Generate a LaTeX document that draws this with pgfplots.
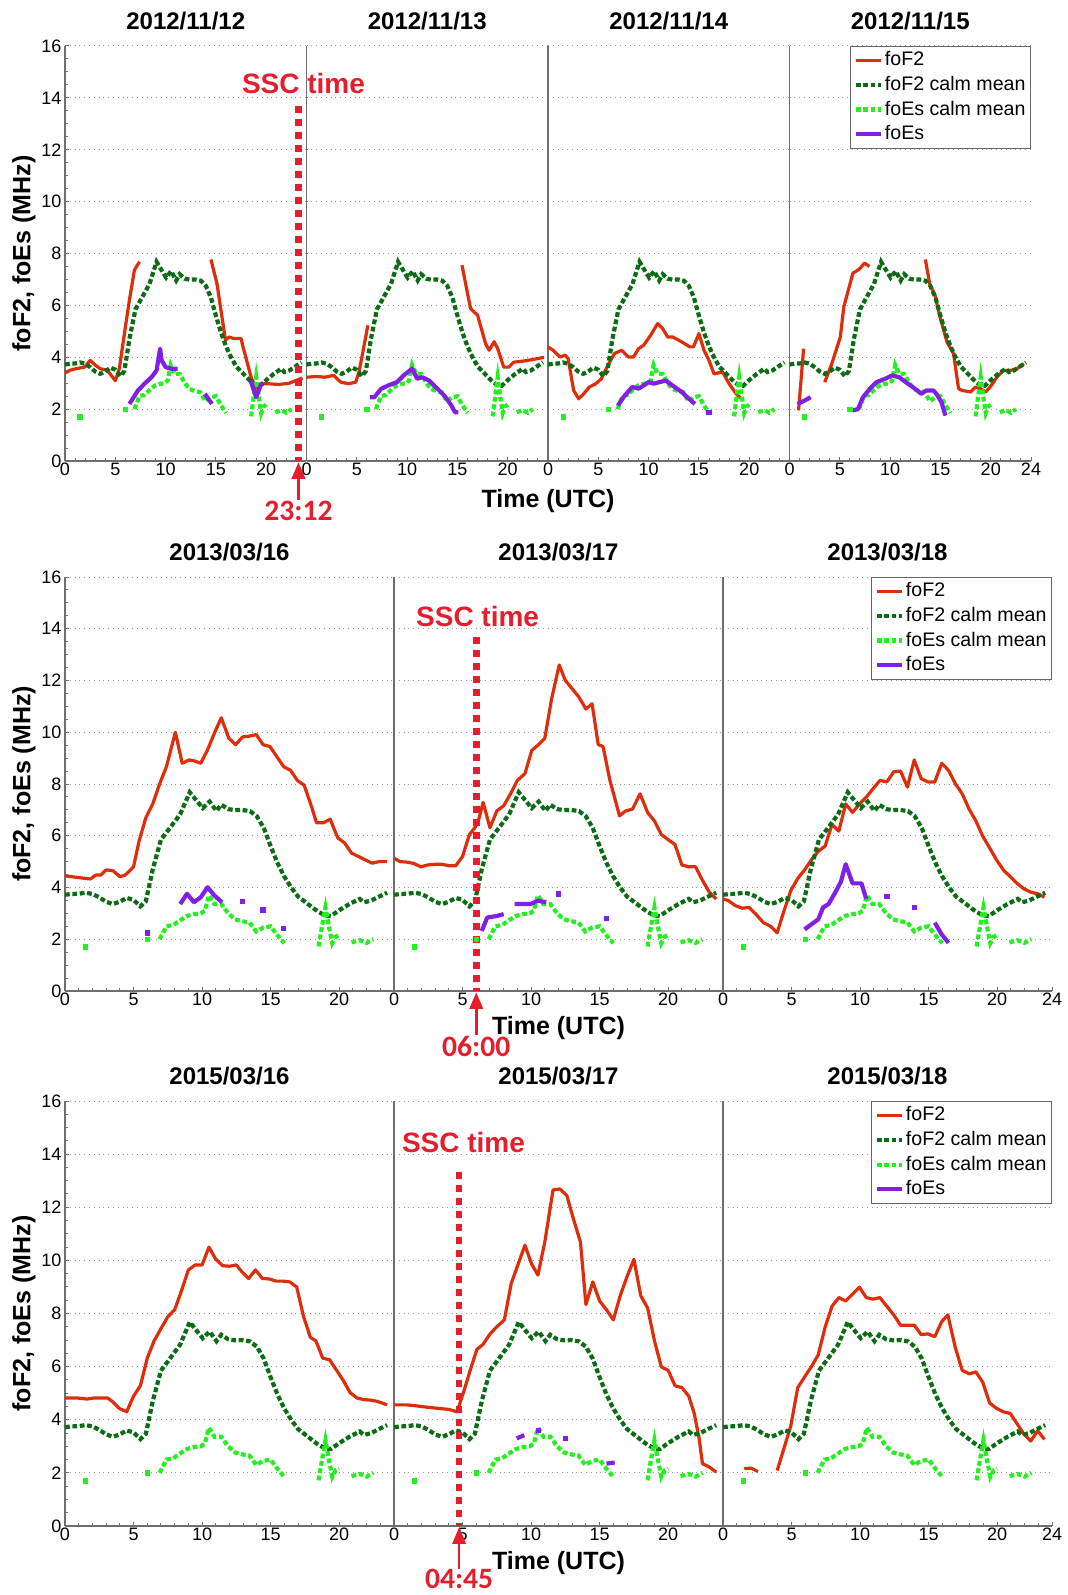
\documentclass[border=0pt]{standalone}
\usepackage{fontspec}
\setmainfont{Liberation Sans}
\newfontfamily\calib{Carlito}
\usepackage{pgfplots}
\usepackage{pgfplotstable}
\pgfplotsset{compat=1.18}
\usetikzlibrary{arrows.meta}

\definecolor{cF2}{RGB}{222,45,10}
\definecolor{cCalmF}{RGB}{12,108,22}
\definecolor{cCalmEs}{RGB}{35,240,30}
\definecolor{cEs}{RGB}{128,32,228}
\definecolor{cSSC}{RGB}{228,30,45}
\definecolor{cAx}{RGB}{110,110,110}

\pgfplotstableread{
x y
0 3.72
0.5 3.75
1 3.76
1.5 3.8
2 3.75
2.5 3.62
3 3.45
3.5 3.36
4 3.45
4.5 3.6
5 3.52
5.5 3.27
5.9 3.47
6.4 4.7
7.0 5.85
7.65 6.3
8.4 6.83
9.1 7.68
9.5 7.42
10.05 7.07
10.55 7.32
11.05 6.96
11.4 7.2
11.9 7.03
12.4 6.99
12.9 7.0
13.5 6.95
14.0 6.75
14.5 6.3
15.0 5.6
15.5 4.95
16.0 4.42
16.5 4.0
17.0 3.65
17.5 3.45
18.0 3.25
18.5 3.05
19.0 2.92
19.4 2.9
20.0 3.12
20.75 3.36
21.5 3.56
21.8 3.43
22.3 3.49
22.8 3.62
23.5 3.8
}\calmFtab

\pgfplotstableread{
x y
6.9 2.0
7.4 2.5
7.9 2.55
8.3 2.7
8.9 2.9
9.4 2.97
9.9 3.0
10.2 3.1
10.5 3.7
10.9 3.36
11.4 3.36
11.9 3.0
12.4 2.77
12.9 2.7
13.45 2.65
13.95 2.3
14.45 2.45
15.0 2.5
15.5 2.15
16.0 1.85
17 nan
18.5 1.72
18.75 2.5
19.0 3.23
19.25 2.5
19.5 1.85
19.75 2.1
20.0 2.17
20.5 nan
20.9 1.88
21.5 1.96
22.0 1.86
22.5 2.0
}\calmEstab

\pgfplotstableread{
x y
1.5 1.7
6.0 2.0
}\calmEspts

\pgfplotsset{
 fof2/.style={color=cF2, line width=1.6pt, line join=round},
 calmF/.style={color=cCalmF, line width=2.1pt, dash pattern=on 2.4pt off 1.3pt},
 calmEs/.style={color=cCalmEs, line width=2.1pt, dash pattern=on 2.4pt off 1.3pt},
 foes/.style={color=cEs, line width=2.1pt, line join=round},
 esdot/.style={color=cEs, only marks, mark=square*, mark size=1.1pt},
 calmdot/.style={color=cCalmEs, only marks, mark=square*, mark size=1.1pt},
 ssc/.style={color=cSSC, line width=3.3pt, dash pattern=on 3.5pt off 3pt},
 panel/.style={
   scale only axis, anchor=south west, xmin=0, xmax=24, ymin=0, ymax=16,
   xtick={0,5,10,15,20}, minor xtick={0,...,24},
   ytick={0,2,...,16}, minor ytick={0,0.5,...,16},
   axis x line*=bottom, axis y line*=left,
   axis line style={-, draw=cAx, line width=0.6pt},
   tick align=inside, major tick length=2.2pt, minor tick length=1.3pt,
   tick style={draw=cAx, line width=0.5pt},
   ymajorgrids, major grid style={draw=black!40, dotted, line width=0.5pt},
   unbounded coords=jump, clip=false,
   /pgf/number format/assume math mode=true,
   ticklabel style={font=\fontsize{9}{10}\selectfont},
   xticklabel style={inner sep=0pt, anchor=north, yshift=-1pt},
   yticklabel style={inner sep=0pt, anchor=east, xshift=-1.6pt},
   title style={font=\bfseries\fontsize{12}{14}\selectfont, at={(0.5,1)}, anchor=base, yshift=2.3pt, inner sep=0pt},
   legend image code/.code={\draw[##1] (0pt,0pt) -- (12.8pt,0pt);},
 },
 inner/.style={yticklabels={}, y tick style={draw=none}},
 last/.style={xtick={0,5,10,15,20,24},
   legend style={at={(1,1)}, anchor=north east, draw=black!60, line width=0.5pt, fill=white,
     font=\fontsize{9.8}{11}\selectfont, inner xsep=1.8pt, inner ysep=0.8pt, row sep=0pt,
     nodes={inner xsep=0.7pt, inner ysep=1.85pt}, cells={anchor=west}}},
 r1/.style={width=120.75pt, height=207.5pt},
 r2/.style={width=164.5pt, height=207pt},
 r3/.style={width=164.5pt, height=212.5pt},
}
\newcommand{\legendall}{%
 \addlegendimage{fof2}\addlegendentry{foF2}
 \addlegendimage{calmF}\addlegendentry{foF2 calm mean}
 \addlegendimage{calmEs}\addlegendentry{foEs calm mean}
 \addlegendimage{foes}\addlegendentry{foEs}}
\newcommand{\calmall}{%
 \addplot[calmF, forget plot] table {\calmFtab};
 \addplot[calmEs, forget plot] table {\calmEstab};
 \addplot[calmdot, forget plot] table {\calmEspts};}
\newcommand{\sscfont}{\bfseries\fontsize{14}{16}\selectfont}
\newcommand{\timefont}{\calib\bfseries\fontsize{14.8}{16}\selectfont}

\begin{document}
\begin{tikzpicture}
\useasboundingbox (0,0) rectangle (534pt,-797.5pt);

% ===== Row 1 =====
\begin{axis}[panel, r1, at={(32.5pt,-230.5pt)}, title={2012/11/12}]
\addplot[fof2, forget plot] coordinates {(0,3.39)(0.5,3.5)(1.1,3.56)(1.95,3.62)(2.5,3.88)(3.0,3.7)(3.5,3.56)(4.2,3.5)(4.6,3.3)(5.0,3.1)(5.4,3.56)(5.9,4.9)(6.4,6.2)(6.9,7.36)(7.4,7.68)(10,nan)(14.5,7.77)(15.1,6.84)(15.95,4.65)(16.3,4.78)(16.8,4.72)(17.5,4.72)(17.65,4.46)(18.5,3.23)(19.0,2.78)(19.5,2.98)(20.2,2.98)(21.25,2.95)(22.3,3.0)(22.8,3.08)(23.6,3.2)};
\calmall
\addplot[foes, forget plot] coordinates {(6.4,2.2)(7.25,2.72)(7.9,2.98)(8.6,3.23)(9.1,3.49)(9.45,4.33)(9.6,3.88)(10.0,3.62)(10.5,3.56)(11.2,3.56)(12,nan)(13.9,2.59)(14.6,2.2)(16,nan)(18.45,3.1)(19.0,2.46)(19.5,2.98)(19.7,2.98)};
\addplot[ssc, forget plot] coordinates {(23.2,13.68)(23.2,0)};
\node[text=cSSC, font=\sscfont, inner sep=0pt] at (axis cs:23.7,14.57) {SSC time};
\draw[cSSC, line width=1.35pt, -{Triangle[width=6.7pt,length=8.3pt]}] (axis cs:23.2,-1.5) -- (axis cs:23.2,-0.05);
\node[text=cSSC, font=\timefont, inner sep=0pt] at (axis cs:23.2,-1.92) {23:12};
\end{axis}

\begin{axis}[panel, inner, r1, at={(153.25pt,-230.5pt)}, title={2012/11/13}]
\addplot[fof2, forget plot] coordinates {(0,3.23)(1.0,3.26)(1.8,3.23)(2.7,3.3)(3.4,3.04)(4.2,2.98)(4.9,3.04)(5.25,3.49)(6.1,5.23)(10,nan)(15.45,7.55)(16.3,5.88)(17.0,5.62)(17.8,4.52)(18.15,4.27)(18.65,4.6)(19.0,4.33)(19.6,3.62)(20.1,3.62)(20.6,3.81)(21.5,3.85)(22.3,3.9)(23.0,3.95)(23.6,4.0)};
\calmall
\addplot[foes, forget plot] coordinates {(6.3,2.46)(6.75,2.46)(7.4,2.78)(8.1,2.91)(9.0,3.04)(9.65,3.3)(10.5,3.56)(11.0,3.17)(11.5,3.23)(12.2,3.1)(12.85,2.85)(13.7,2.52)(14.4,2.14)(14.75,1.88)(15.1,1.88)};
\end{axis}

\begin{axis}[panel, inner, r1, at={(274pt,-230.5pt)}, title={2012/11/14}]
\addplot[fof2, forget plot] coordinates {(0,4.4)(0.5,4.27)(1.2,4.01)(1.7,4.08)(2.0,3.95)(2.55,2.72)(3.05,2.4)(3.55,2.59)(4.1,2.85)(4.75,2.98)(5.3,3.17)(5.95,3.69)(6.6,4.14)(7.3,4.27)(8.0,4.01)(8.5,4.01)(9.0,4.33)(9.5,4.46)(10.2,4.85)(10.9,5.3)(11.4,5.1)(11.9,4.78)(12.4,4.78)(13.3,4.59)(14.1,4.4)(14.45,4.4)(15.0,4.91)(15.5,4.27)(16.0,3.88)(16.5,3.36)(17.35,3.43)(18.0,2.98)(18.7,2.59)(19.4,2.33)};
\calmall
\addplot[foes, forget plot] coordinates {(6.95,2.14)(7.5,2.46)(8.35,2.85)(9.0,2.79)(9.5,2.91)(10.0,3.04)(10.5,2.98)(11.05,3.04)(11.7,3.1)(12.6,2.85)(13.3,2.66)(14.0,2.4)(14.6,2.2)};
\addplot[esdot, forget plot] coordinates {(16.0,1.88)};
\end{axis}

\begin{axis}[panel, inner, last, r1, at={(394.75pt,-230.5pt)}, title={2012/11/15}]
\legendall
\addplot[fof2, forget plot] coordinates {(0.9,1.95)(1.4,4.33)(2.5,nan)(3.5,3.04)(4.2,3.75)(5.05,4.78)(5.4,5.95)(6.3,7.24)(6.95,7.4)(7.45,7.63)(7.95,7.5)(10,nan)(13.5,7.77)(13.95,6.8)(14.45,6.4)(14.95,5.56)(15.65,4.59)(16.3,4.14)(16.8,2.79)(17.15,2.72)(18.0,2.66)(18.5,2.85)(19.0,2.79)(19.5,2.66)(20.05,2.91)(20.6,3.23)(21.25,3.49)(21.95,3.49)(22.6,3.56)(23.3,3.75)};
\calmall
\addplot[foes, forget plot] coordinates {(0.8,2.2)(1.5,2.33)(2.1,2.46)(4,nan)(6.25,1.95)(6.8,2.0)(7.3,2.46)(8.0,2.79)(8.65,3.04)(9.5,3.17)(10.2,3.3)(10.9,3.23)(11.55,3.04)(12.25,2.85)(13.1,2.59)(13.6,2.72)(14.3,2.72)(14.6,2.59)(15.1,2.27)(15.5,1.75)};
\end{axis}

% ===== Row 2 =====
\begin{axis}[panel, r2, at={(32.5pt,-495.5pt)}, title={2013/03/16}]
\addplot[fof2, forget plot] coordinates {(0,4.45)(1.5,4.35)(1.85,4.33)(2.25,4.48)(2.6,4.48)(3.0,4.68)(3.5,4.65)(4.0,4.42)(4.4,4.48)(5.0,4.8)(5.4,5.79)(5.9,6.7)(6.4,7.23)(6.9,8.0)(7.4,8.67)(8.05,10.0)(8.55,8.8)(9.05,8.93)(9.4,8.9)(9.9,8.8)(10.4,9.32)(10.9,9.97)(11.4,10.56)(11.95,9.77)(12.45,9.52)(12.95,9.82)(13.45,9.85)(13.95,9.91)(14.45,9.52)(14.95,9.45)(15.45,9.06)(15.95,8.67)(16.45,8.53)(16.95,8.14)(17.45,7.95)(18.0,7.1)(18.35,6.5)(18.85,6.5)(19.35,6.64)(19.6,6.3)(19.9,5.92)(20.4,5.72)(20.9,5.33)(21.4,5.2)(21.9,5.07)(22.4,4.94)(22.9,5.0)(23.5,5.0)};
\calmall
\addplot[foes, forget plot] coordinates {(8.4,3.36)(8.9,3.76)(9.4,3.43)(9.9,3.62)(10.4,4.01)(10.9,3.69)(11.45,3.43)};
\addplot[esdot, forget plot] coordinates {(6.0,2.25)(12.95,3.46)(14.45,3.14)(15.95,2.41)};
\end{axis}

\begin{axis}[panel, inner, r2, at={(197pt,-495.5pt)}, title={2013/03/17}]
\addplot[fof2, forget plot] coordinates {(0,5.13)(0.45,5.0)(0.95,4.98)(1.45,4.93)(1.95,4.8)(2.45,4.87)(3.0,4.9)(3.5,4.9)(4.0,4.84)(4.5,4.84)(5.0,5.2)(5.5,6.05)(5.9,6.31)(6.15,6.57)(6.5,7.29)(7.0,6.31)(7.5,6.96)(8.0,7.16)(8.5,7.62)(9.0,8.14)(9.55,8.4)(10.05,9.3)(10.5,9.5)(11.0,9.77)(11.5,11.3)(12.05,12.6)(12.5,12.0)(13.0,11.68)(13.5,11.35)(14.0,10.9)(14.45,11.1)(14.9,9.52)(15.25,9.45)(15.75,8.14)(16.45,6.77)(16.9,6.96)(17.4,7.03)(17.95,7.62)(18.5,6.9)(19.0,6.57)(19.5,6.05)(20.0,5.85)(20.5,5.66)(21.0,4.87)(21.5,4.8)(22.0,4.8)(22.5,4.28)(23.0,3.82)(23.5,3.56)};
\calmall
\addplot[foes, forget plot] coordinates {(6.4,2.32)(6.8,2.84)(7.5,2.9)(8.0,2.97)(8.4,nan)(8.8,3.36)(9.95,3.36)(10.5,3.49)(11.1,3.43)};
\addplot[esdot, forget plot] coordinates {(12.0,3.75)(15.5,2.8)};
\addplot[ssc, forget plot] coordinates {(6.0,13.67)(6.0,0)};
\node[text=cSSC, font=\sscfont, inner sep=0pt] at (axis cs:6.1,14.49) {SSC time};
\draw[cSSC, line width=1.35pt, -{Triangle[width=6.7pt,length=8.3pt]}] (axis cs:6.0,-1.7) -- (axis cs:6.0,-0.05);
\node[text=cSSC, font=\timefont, inner sep=0pt] at (axis cs:6.0,-2.16) {06:00};
\end{axis}

\begin{axis}[panel, inner, last, r2, at={(361.5pt,-495.5pt)}, title={2013/03/18}]
\legendall
\addplot[fof2, forget plot] coordinates {(0,3.56)(0.4,3.49)(0.9,3.3)(1.4,3.2)(1.9,3.23)(2.4,2.97)(2.95,2.64)(3.45,2.51)(3.95,2.25)(4.45,3.1)(4.95,3.89)(5.45,4.35)(5.95,4.68)(6.45,5.07)(6.95,5.4)(7.45,5.6)(7.95,6.44)(8.45,6.18)(8.95,7.23)(9.45,6.9)(9.95,7.23)(10.45,7.49)(10.95,7.82)(11.45,8.14)(11.95,8.08)(12.45,8.47)(12.95,8.5)(13.45,7.88)(13.95,8.93)(14.45,8.21)(14.95,8.08)(15.45,8.08)(15.95,8.8)(16.45,8.53)(16.95,8.01)(17.45,7.62)(17.95,7.03)(18.45,6.57)(18.95,5.98)(19.45,5.53)(19.95,5.07)(20.45,4.68)(20.95,4.42)(21.45,4.16)(21.95,3.95)(22.45,3.82)(22.95,3.76)(23.45,3.63)};
\calmall
\addplot[foes, forget plot] coordinates {(5.95,2.38)(6.45,2.58)(6.95,2.77)(7.3,3.23)(7.7,3.36)(8.2,3.82)(8.6,4.22)(8.95,4.9)(9.45,4.16)(10.1,4.16)(10.45,3.56)(12,nan)(15.45,2.64)(15.95,2.19)(16.45,1.86)};
\addplot[esdot, forget plot] coordinates {(11.95,3.65)(13.95,3.23)};
\end{axis}

% ===== Row 3 =====
\begin{axis}[panel, r3, at={(32.5pt,-763pt)}, title={2015/03/16}]
\addplot[fof2, forget plot] coordinates {(0,4.82)(0.85,4.82)(1.6,4.78)(2.1,4.82)(2.6,4.82)(3.1,4.82)(3.45,4.69)(3.95,4.43)(4.5,4.3)(5.0,4.89)(5.5,5.28)(6.0,6.32)(6.5,6.97)(7.0,7.43)(7.5,7.88)(8.0,8.14)(8.5,8.86)(9.0,9.64)(9.5,9.83)(10.0,9.83)(10.5,10.5)(11.0,10.04)(11.5,9.8)(12.0,9.78)(12.5,9.83)(12.9,9.57)(13.4,9.32)(13.9,9.64)(14.4,9.32)(14.9,9.3)(15.4,9.22)(15.9,9.22)(16.4,9.19)(16.9,9.0)(17.4,7.89)(17.9,7.1)(18.3,6.97)(18.8,6.32)(19.3,6.26)(19.8,5.87)(20.3,5.48)(20.8,5.02)(21.3,4.82)(21.8,4.76)(22.3,4.74)(22.8,4.69)(23.5,4.56)};
\calmall
\end{axis}

\begin{axis}[panel, inner, r3, at={(197pt,-763pt)}, title={2015/03/17}]
\addplot[fof2, forget plot] coordinates {(0,4.56)(0.95,4.56)(1.7,4.52)(2.45,4.47)(3.2,4.43)(4.0,4.39)(4.6,4.3)(5.1,5.08)(5.6,5.93)(6.05,6.65)(6.5,6.84)(7.0,7.23)(7.5,7.5)(8.05,7.76)(8.55,9.13)(9.05,9.85)(9.55,10.57)(10.05,9.85)(10.5,9.45)(11.0,10.69)(11.6,12.65)(12.1,12.69)(12.6,12.45)(13.1,11.54)(13.6,10.69)(14.0,8.34)(14.5,9.19)(15.0,8.47)(15.5,8.14)(16.0,7.76)(16.5,8.67)(17.0,9.39)(17.5,10.04)(18.0,8.67)(18.5,8.21)(19.0,6.97)(19.5,5.99)(20.0,5.86)(20.5,5.28)(21.0,5.21)(21.5,4.89)(21.9,4.24)(22.25,3.33)(22.5,2.35)(23.0,2.22)(23.5,2.03)};
\calmall
\addplot[foes, forget plot] coordinates {(8.95,3.3)(9.5,3.42)(10,nan)(15.5,2.35)(16.1,2.39)};
\addplot[esdot, forget plot] coordinates {(10.55,3.6)(12.5,3.3)};
\addplot[ssc, forget plot] coordinates {(4.75,13.34)(4.75,0)};
\node[text=cSSC, font=\sscfont, inner sep=0pt] at (axis cs:5.07,14.43) {SSC time};
\draw[cSSC, line width=1.35pt, -{Triangle[width=6.7pt,length=8.3pt]}] (axis cs:4.75,-1.62) -- (axis cs:4.75,-0.05);
\node[text=cSSC, font=\timefont, inner sep=0pt] at (axis cs:4.75,-1.98) {04:45};
\end{axis}

\begin{axis}[panel, inner, last, r3, at={(361.5pt,-763pt)}, title={2015/03/18}]
\legendall
\addplot[fof2, forget plot] coordinates {(1.55,2.16)(2.05,2.18)(2.55,2.05)(3.2,nan)(3.95,2.09)(4.45,2.93)(4.95,3.78)(5.45,5.21)(5.95,5.61)(6.45,6.0)(6.95,6.45)(7.45,7.49)(7.95,8.27)(8.45,8.6)(8.95,8.47)(9.45,8.73)(9.95,8.99)(10.45,8.6)(10.95,8.54)(11.45,8.6)(11.95,8.27)(12.45,7.95)(12.95,7.56)(13.45,7.56)(13.95,7.56)(14.45,7.21)(14.95,7.23)(15.45,7.13)(15.95,7.69)(16.4,7.95)(16.95,6.71)(17.45,5.86)(17.95,5.73)(18.45,5.8)(18.95,5.41)(19.45,4.63)(19.95,4.43)(20.45,4.3)(20.95,4.24)(21.45,3.85)(21.95,3.46)(22.45,3.2)(22.95,3.59)(23.45,3.26)};
\calmall
\end{axis}

% ===== Shared labels =====
\foreach \yc in {-126.75, -392, -656.75} {
  \node[rotate=90, font=\bfseries\fontsize{12.5}{14}\selectfont, inner sep=0pt] at (12pt,\yc pt) {foF2, foEs (MHz)};
}
\node[anchor=base, font=\bfseries\fontsize{12.5}{14}\selectfont, inner sep=0pt] at (274pt,-253.75pt) {Time (UTC)};
\node[anchor=base, font=\bfseries\fontsize{12.5}{14}\selectfont, inner sep=0pt] at (279.25pt,-517pt) {Time (UTC)};
\node[anchor=base, font=\bfseries\fontsize{12.5}{14}\selectfont, inner sep=0pt] at (279.25pt,-784.5pt) {Time (UTC)};
\end{tikzpicture}
\end{document}
